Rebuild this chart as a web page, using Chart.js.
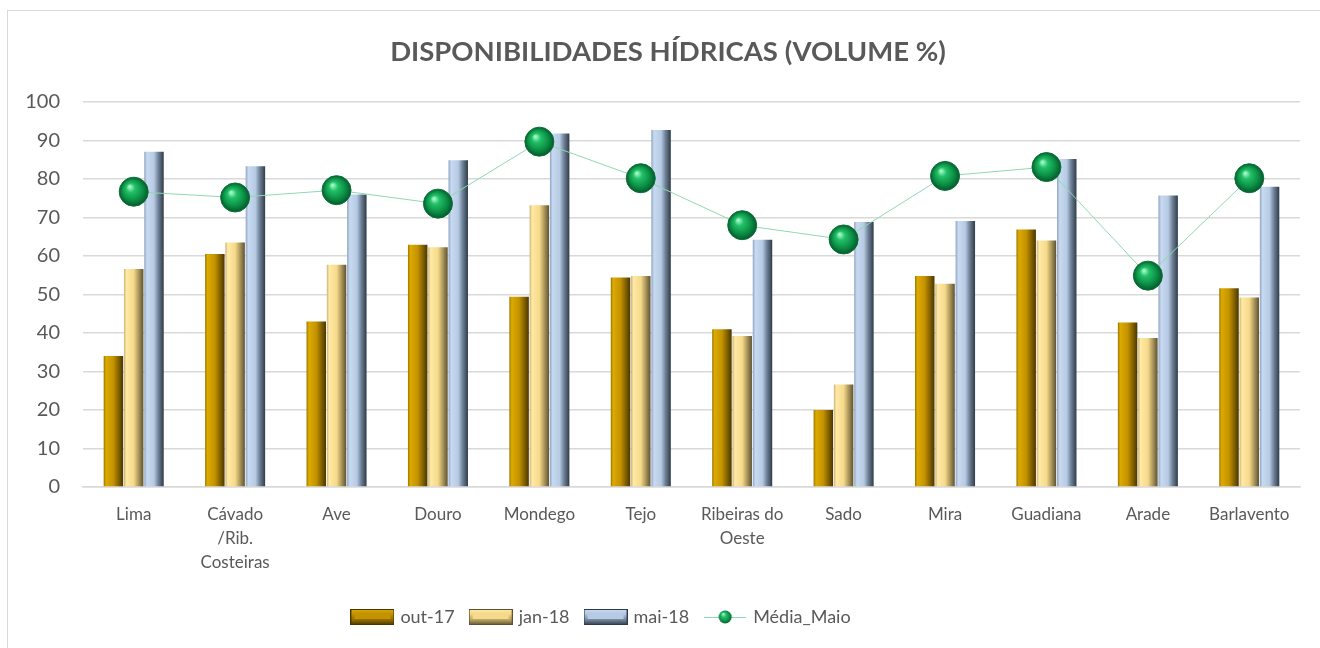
<!DOCTYPE html>
<html>
<head>
<meta charset="utf-8">
<script src="https://cdn.jsdelivr.net/npm/chart.js@4.4.1/dist/chart.umd.min.js"></script>
<style>
    html, body { margin: 0; padding: 0; background: #ffffff; overflow: hidden; }
    #moldura { position: absolute; left: 7px; top: 10px; width: 1400px; height: 700px; border: 1px solid #d9d9d9; }
    #graficas { position: absolute; left: 0; top: 0; width: 1320px; height: 648px; }
</style>
</head>
<body>
<div id="moldura"></div>
<div id="graficas"><canvas id="canvasGraficas"></canvas></div>
<script>
var bacias = ["Lima", ["Cávado", "/Rib.", "Costeiras"], "Ave", "Douro", "Mondego", "Tejo",
    ["Ribeiras do", "Oeste"], "Sado", "Mira", "Guadiana", "Arade", "Barlavento"];
var out17 = [34.0, 60.5, 43.0, 62.9, 49.4, 54.4, 41.0, 20.0, 54.8, 66.9, 42.7, 51.6];
var jan18 = [56.6, 63.5, 57.7, 62.3, 73.2, 54.8, 39.2, 26.6, 52.8, 64.0, 38.7, 49.2];
var mai18 = [87.1, 83.3, 76.0, 84.9, 91.8, 92.7, 64.2, 68.8, 69.1, 85.2, 75.7, 78.0];
var mediaMaio = [76.7, 75.2, 77.1, 73.6, 89.7, 80.2, 68.0, 64.3, 80.8, 83.1, 54.9, 80.2];
var ticksY = [0, 10, 20, 30, 40, 50, 60, 70, 80, 90, 100];

var corTexto = "#595959";
var fonte = "Lato, 'Open Sans', sans-serif";
var CAT_PCT = 0.6;
var BAR_PCT = 0.96;

// stops horizontais para dar o efeito de barra biselada
var estilos = [
    { solido: "#c49500", stops: [[0, "#9a7400"], [0.12, "#dcab00"], [0.5, "#c49200"], [0.72, "#8e6a00"], [1, "#4a3700"]] },
    { solido: "#f7dc8c", stops: [[0, "#c9b274"], [0.12, "#ffe9a4"], [0.5, "#f6da8b"], [0.72, "#b5a061"], [1, "#5e5232"]] },
    { solido: "#b9cde6", stops: [[0, "#8fa5c2"], [0.14, "#c8daf1"], [0.5, "#b6cae3"], [0.72, "#6f8298"], [1, "#2f3b48"]] }
];

function gradienteBarra(ctx, serie) {
    var chart = ctx.chart;
    var est = estilos[serie];
    if (ctx.type !== "data" || !chart.chartArea) return est.solido;
    var xs = chart.scales.x;
    var centro = xs.getPixelForValue(ctx.dataIndex);
    var larguraCat = xs.width / bacias.length;
    var grupo = larguraCat * CAT_PCT;
    var slot = grupo / 3;
    var largura = slot * BAR_PCT;
    var esq = centro - grupo / 2 + slot * serie + (slot - largura) / 2;
    var g = chart.ctx.createLinearGradient(esq, 0, esq + largura, 0);
    est.stops.forEach(function (s) { g.addColorStop(s[0], s[1]); });
    return g;
}

function esferaVerde(ctx) {
    var chart = ctx.chart;
    if (ctx.type !== "data" || !chart.chartArea) return "#10a050";
    var px = chart.scales.x.getPixelForValue(ctx.dataIndex);
    var py = chart.scales.y.getPixelForValue(mediaMaio[ctx.dataIndex]);
    var g = chart.ctx.createRadialGradient(px - 4, py - 5, 1, px, py, 15);
    g.addColorStop(0, "#9af5c0");
    g.addColorStop(0.25, "#22c068");
    g.addColorStop(0.65, "#0c9146");
    g.addColorStop(1, "#04552a");
    return g;
}

// icones da legenda
function iconeBarra(serie) {
    var c = document.createElement("canvas");
    c.width = 44; c.height = 16;
    var x = c.getContext("2d");
    var est = estilos[serie];
    var g = x.createLinearGradient(0, 0, 0, 16);
    g.addColorStop(0, est.stops[1][1]);
    g.addColorStop(0.3, est.stops[2][1]);
    g.addColorStop(0.7, est.stops[3][1]);
    g.addColorStop(1, est.stops[4][1]);
    x.fillStyle = g;
    x.fillRect(0, 0, 44, 16);
    x.fillStyle = est.stops[2][1];
    x.fillRect(4, 4, 36, 6);
    x.strokeStyle = est.stops[4][1];
    x.lineWidth = 1;
    x.strokeRect(0.5, 0.5, 43, 15);
    return c;
}
function iconeLinha() {
    var c = document.createElement("canvas");
    c.width = 42; c.height = 16;
    var x = c.getContext("2d");
    x.strokeStyle = "#8fd9b0";
    x.lineWidth = 1;
    x.beginPath(); x.moveTo(0, 8.5); x.lineTo(42, 8.5); x.stroke();
    var g = x.createRadialGradient(19, 5, 0.5, 21, 8, 7);
    g.addColorStop(0, "#9af5c0");
    g.addColorStop(0.3, "#22c068");
    g.addColorStop(0.7, "#0c9146");
    g.addColorStop(1, "#04552a");
    x.fillStyle = g;
    x.beginPath(); x.arc(21, 8, 6.5, 0, Math.PI * 2); x.fill();
    return c;
}
var icones = [iconeBarra(0), iconeBarra(1), iconeBarra(2), iconeLinha()];

// no original o titulo fica um pouco a direita e a legenda a esquerda do centro
var ajustaBlocos = {
    id: "ajustaBlocos",
    afterLayout: function (chart) {
        chart.titleBlock.left += 18;
        chart.titleBlock.right += 18;
        chart.legend.left -= 48;
        chart.legend.right -= 48;
    }
};

var datosGrafica = {
    labels: bacias,
    datasets: [
        {
            type: "line",
            label: "Média_Maio",
            data: mediaMaio,
            order: -1,
            borderColor: "#8fd9b0",
            borderWidth: 1,
            pointRadius: 14.5,
            pointHoverRadius: 14.5,
            pointBackgroundColor: esferaVerde,
            pointBorderColor: "#0a7036",
            pointBorderWidth: 1
        },
        {
            label: "out-17",
            data: out17,
            backgroundColor: function (ctx) { return gradienteBarra(ctx, 0); },
            categoryPercentage: CAT_PCT,
            barPercentage: BAR_PCT
        },
        {
            label: "jan-18",
            data: jan18,
            backgroundColor: function (ctx) { return gradienteBarra(ctx, 1); },
            categoryPercentage: CAT_PCT,
            barPercentage: BAR_PCT
        },
        {
            label: "mai-18",
            data: mai18,
            backgroundColor: function (ctx) { return gradienteBarra(ctx, 2); },
            categoryPercentage: CAT_PCT,
            barPercentage: BAR_PCT
        }
    ]
};

var canvasGraficas = document.getElementById("canvasGraficas");
var myBarChart = new Chart(canvasGraficas, {
    type: "bar",
    data: datosGrafica,
    plugins: [ajustaBlocos],
    options: {
        responsive: true,
        maintainAspectRatio: false,
        animation: false,
        layout: { padding: { left: 0, right: 20, top: 0, bottom: 12 } },
        plugins: {
            title: {
                display: true,
                text: "DISPONIBILIDADES HÍDRICAS (VOLUME %)",
                color: corTexto,
                font: { family: fonte, size: 27.5, weight: "bold" },
                padding: { top: 36, bottom: 33 }
            },
            legend: {
                position: "bottom",
                labels: {
                    color: corTexto,
                    font: { family: fonte, size: 18 },
                    usePointStyle: true,
                    pointStyleWidth: 38,
                    padding: 17,
                    generateLabels: function (chart) {
                        var ordem = [1, 2, 3, 0];
                        return ordem.map(function (di, i) {
                            return {
                                text: chart.data.datasets[di].label,
                                datasetIndex: di,
                                pointStyle: icones[i],
                                fontColor: corTexto,
                                hidden: false,
                                lineWidth: 0
                            };
                        });
                    }
                }
            },
            tooltip: { enabled: false }
        },
        scales: {
            x: {
                grid: { display: false },
                border: { display: true, color: "#d9d9d9", width: 1.5 },
                ticks: {
                    color: corTexto,
                    font: { family: fonte, size: 17, lineHeight: 1.42 },
                    padding: 7,
                    maxRotation: 0,
                    autoSkip: false
                },
                afterFit: function (scale) { scale.height = 104; }
            },
            y: {
                min: 0,
                max: 100,
                afterBuildTicks: function (scale) {
                    scale.ticks = ticksY.map(function (v) { return { value: v }; });
                },
                grid: { color: "#d9d9d9", lineWidth: 1.5, drawTicks: false },
                border: { display: false },
                ticks: {
                    color: corTexto,
                    font: { family: fonte, size: 20 },
                    padding: 23
                },
                afterFit: function (scale) { scale.width = 83; }
            }
        }
    }
});
</script>
</body>
</html>
